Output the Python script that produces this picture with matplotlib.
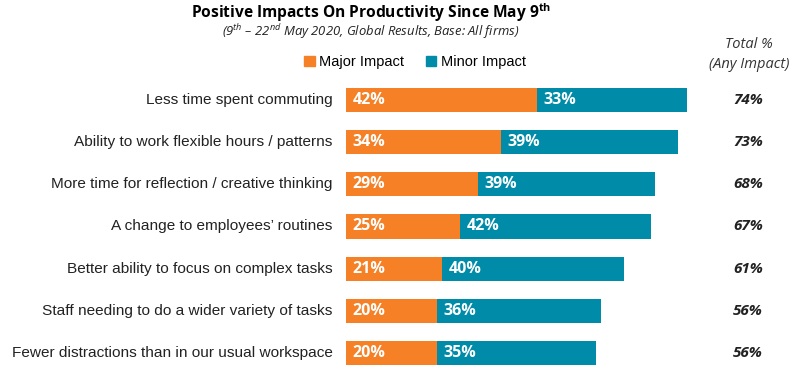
import numpy as np
import matplotlib
matplotlib.use("Agg")
from matplotlib import pyplot as plt
from matplotlib.patches import Patch

categories = ["Less time spent commuting",
              "Ability to work flexible hours / patterns",
              "More time for reflection / creative thinking",
              "A change to employees\u2019 routines",
              "Better ability to focus on complex tasks",
              "Staff needing to do a wider variety of tasks",
              "Fewer distractions than in our usual workspace"]
major = [42, 34, 29, 25, 21, 20, 20]
minor = [33, 39, 39, 42, 40, 36, 35]
totals = [74, 73, 68, 67, 61, 56, 56]

ORANGE = "#F58025"
TEAL = "#008CA8"

plt.rcParams["mathtext.fontset"] = "custom"
plt.rcParams["mathtext.rm"] = "Open Sans"
plt.rcParams["mathtext.it"] = "Open Sans:italic"
plt.rcParams["mathtext.bf"] = "Open Sans:bold"

fig = plt.figure(figsize=(8, 3.73), dpi=100)
W, H = 800, 373
# bars start at x=346 px, ~4.55 px per percent
ax = fig.add_axes([346 / W, 0, 360 / W, (373 - 78.9) / H])
ax.set_xlim(0, 360 / 4.55)
ax.set_ylim(6.474, -0.5)
ax.axis("off")

y = np.arange(len(categories))
ax.barh(y, major, height=0.57, color=ORANGE)
ax.barh(y, minor, left=major, height=0.57, color=TEAL)

for i in range(len(categories)):
    ax.text(1.5, i, f"{major[i]}%", color="white", fontsize=11.5, fontweight="bold",
            family="Open Sans", va="center", ha="left")
    ax.text(major[i] + 1.5, i, f"{minor[i]}%", color="white", fontsize=11.5,
            fontweight="bold", family="Open Sans", va="center", ha="left")
    ax.text(-2.9, i, categories[i], fontsize=11.1, family="Liberation Sans",
            color="#222222", va="center", ha="right")

# totals column
for i, t in enumerate(totals):
    yd = ax.transData.transform((0, i))[1]
    fig.text(748 / W, yd / H, f"{t}%", fontsize=11, fontweight="bold",
             style="italic", family="Open Sans", color="#222222", ha="center", va="center")

fig.text(749 / W, 1 - 45 / H, "Total %", fontsize=10.5, style="italic",
         family="Open Sans", color="#333333", ha="center", va="center")
fig.text(749 / W, 1 - 64 / H, "(Any Impact)", fontsize=10.5, style="italic",
         family="Open Sans", color="#333333", ha="center", va="center")

# title
fig.text(371 / W, 1 - 13 / H, r"Positive Impacts On Productivity Since May 9$^{\mathbf{th}}$",
         fontsize=11.2, fontweight="bold", family="Open Sans", color="black",
         ha="center", va="center")
fig.text(371 / W, 1 - 32 / H,
         r"(9$^{\mathit{th}}$ – 22$^{\mathit{nd}}$ May 2020, Global Results, Base: All firms)",
         fontsize=9.4, style="italic", family="Open Sans", color="#222222",
         ha="center", va="center")

handles = [Patch(color=ORANGE, label="Major Impact"), Patch(color=TEAL, label="Minor Impact")]
fig.legend(handles=handles, loc="center", bbox_to_anchor=(415 / W, 1 - 62 / H), ncol=2,
           frameon=False, handlelength=0.7, handleheight=0.7, handletextpad=0.3,
           columnspacing=1.5, prop={"family": "Liberation Sans", "size": 10.5})

fig.savefig("out.png", dpi=100)
